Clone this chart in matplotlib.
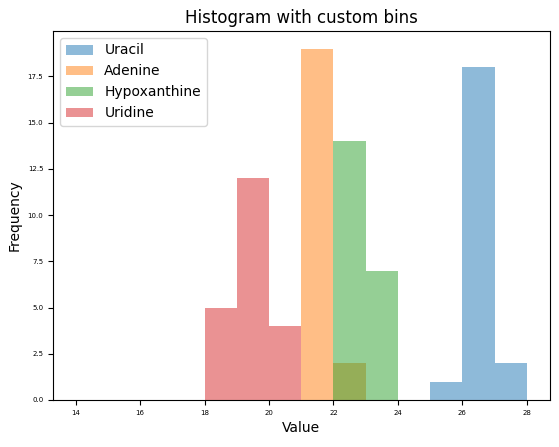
import matplotlib
matplotlib.use("Agg")
import matplotlib.pyplot as plt
import numpy as np

bins = list(range(14, 29))
labels = ["Uracil", "Adenine", "Hypoxanthine", "Uridine"]
# values per sample (bin centers repeated by counts)
uracil = [25.5] * 1 + [26.5] * 18 + [27.5] * 2
adenine = [21.5] * 19 + [22.5] * 2
hypoxanthine = [22.5] * 14 + [23.5] * 7
uridine = [18.5] * 5 + [19.5] * 12 + [20.5] * 4

fig = plt.figure(figsize=(5.59, 4.47), dpi=100)
ax = fig.add_axes([53/559, 1-400/447, (549.5-53)/559, (400-31)/447])
for data, lab in zip([uracil, adenine, hypoxanthine, uridine], labels):
    ax.hist(data, bins=bins, alpha=0.5, label=lab)
ax.set_title("Histogram with custom bins", fontsize=12)
ax.set_xlabel("Value", fontsize=10)
ax.set_ylabel("Frequency", fontsize=10)
ax.tick_params(labelsize=5)
ax.legend(loc="upper left", fontsize=10)
fig.savefig("out.png", dpi=100)
